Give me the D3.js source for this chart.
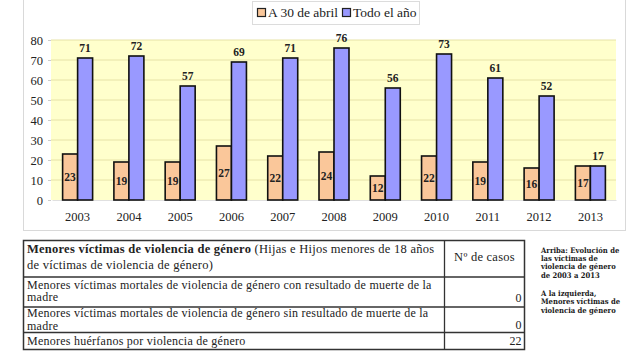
<!DOCTYPE html>
<html><head><meta charset="utf-8">
<script src="https://cdn.jsdelivr.net/npm/d3@7"></script>
<style>
html,body{margin:0;padding:0;background:#fff;}
svg{display:block;}
</style></head>
<body>
<svg id="c" width="644" height="362"></svg>
<script>
const years = ["2003","2004","2005","2006","2007","2008","2009","2010","2011","2012","2013"];
const abril = [23,19,19,27,22,24,12,22,19,16,17];
const todo  = [71,72,57,69,71,76,56,73,61,52,17];
const seriesNames = ["A 30 de abril","Todo el año"];
const yTicks = [0,10,20,30,40,50,60,70,80];

const tableHeaderBold = "Menores víctimas de violencia de género";
const tableHeaderRest = " (Hijas e Hijos menores de 18 años";
const tableHeaderLine2 = "de víctimas de violencia de género)";
const tableColHeader = "Nº de casos";
const tableRows = [
  ["Menores víctimas mortales de violencia de género con resultado de muerte de la","madre"],
  ["Menores víctimas mortales de violencia de género sin resultado de muerte de la","madre"],
  ["Menores huérfanos por violencia de género"]
];
const tableValues = ["0","0","22"];
const sideNote1 = ["Arriba: Evolución de","las víctimas de","violencia de género","de 2003 a 2013"];
const sideNote2 = ["A la izquierda,","Menores víctimas de","violencia de género"];

const svg = d3.select("#c");
const SERIF = "'Liberation Serif','DejaVu Serif',serif";
const colA = "#FAC79A", colT = "#9999FF";

// chart frame
svg.append("rect").attr("x",23.5).attr("y",-5).attr("width",602).attr("height",235.5)
  .attr("fill","#fff").attr("stroke","#d9d9d9").attr("stroke-width",1);

const plot = {l:51, r:616, t:40, b:200};
const x = d3.scaleBand().domain(years).range([plot.l+1, plot.r]).paddingInner(0.415).paddingOuter(0.207);
const y = d3.scaleLinear().domain([0,80]).range([plot.b, plot.t]);

svg.append("rect").attr("x",plot.l).attr("y",plot.t).attr("width",plot.r-plot.l).attr("height",plot.b-plot.t)
  .attr("fill","#FFFFCC");
svg.append("g").selectAll("line").data(yTicks.filter(d=>d>0)).join("line")
  .attr("x1",plot.l).attr("x2",plot.r).attr("y1",d=>y(d)).attr("y2",d=>y(d))
  .attr("stroke","#E6E2A6").attr("stroke-width",1);

// axes
const yAxis = svg.append("g").attr("transform",`translate(${plot.l},0)`)
  .call(d3.axisLeft(y).tickValues(yTicks).tickSize(3).tickPadding(5));
yAxis.select(".domain").remove();
yAxis.selectAll("line").attr("stroke","#ccc");
yAxis.selectAll("text").attr("font-family",SERIF).attr("font-size","12.5px").attr("fill","#222");

const xAxis = svg.append("g").attr("transform",`translate(0,${plot.b})`)
  .call(d3.axisBottom(x).tickSize(0).tickPadding(12));
xAxis.select(".domain").attr("stroke","#e0e0e0");
xAxis.selectAll("text").attr("font-family",SERIF).attr("font-size","12.5px").attr("fill","#222");

const bw = x.bandwidth()/2;
const gA = svg.append("g");
gA.selectAll("rect").data(years).join("rect")
  .attr("x",d=>x(d)).attr("width",bw)
  .attr("y",(d,i)=>y(abril[i])).attr("height",(d,i)=>y(0)-y(abril[i]))
  .attr("fill",colA).attr("stroke","#111").attr("stroke-width",1.6);
const gT = svg.append("g");
gT.selectAll("rect").data(years).join("rect")
  .attr("x",d=>x(d)+bw).attr("width",bw)
  .attr("y",(d,i)=>y(todo[i])).attr("height",(d,i)=>y(0)-y(todo[i]))
  .attr("fill",colT).attr("stroke","#111").attr("stroke-width",1.6);

// labels
svg.append("g").selectAll("text").data(years).join("text")
  .attr("x",d=>x(d)+bw/2).attr("y",(d,i)=>(y(abril[i])+y(0))/2+4)
  .attr("text-anchor","middle").attr("font-family",SERIF).attr("font-weight","bold")
  .attr("font-size","11.5px").attr("fill","#222").text((d,i)=>abril[i]);
svg.append("g").selectAll("text").data(years).join("text")
  .attr("x",d=>x(d)+bw*1.5).attr("y",(d,i)=>y(todo[i])-6)
  .attr("text-anchor","middle").attr("font-family",SERIF).attr("font-weight","bold")
  .attr("font-size","11.5px").attr("fill","#222").text((d,i)=>todo[i]);

// legend
const lg = svg.append("g");
lg.append("rect").attr("x",252.5).attr("y",1.5).attr("width",167).attr("height",23)
  .attr("fill","#fff").attr("stroke","#dcdcdc");
const legItems = [{n:seriesNames[0],c:colA,x:257},{n:seriesNames[1],c:colT,x:342}];
legItems.forEach(it=>{
  lg.append("rect").attr("x",it.x+0.5).attr("y",8.5).attr("width",8).attr("height",8)
    .attr("fill",it.c).attr("stroke","#222").attr("stroke-width",1.2);
  lg.append("text").attr("x",it.x+11).attr("y",17).attr("font-family",SERIF)
    .attr("font-size","13.5px").attr("fill","#222").text(it.n);
});

// table
const T = {l:23.5, r:524.5, c:444.5};
const rowY = [240.5, 277, 307, 332.5, 349.5];
const tg = svg.append("g");
tg.append("rect").attr("x",T.l).attr("y",rowY[0]).attr("width",T.r-T.l).attr("height",rowY[4]-rowY[0])
  .attr("fill","#fff").attr("stroke","#333").attr("stroke-width",1.5);
rowY.slice(1,4).forEach(yy=>tg.append("line").attr("x1",T.l).attr("x2",T.r).attr("y1",yy).attr("y2",yy)
  .attr("stroke","#333").attr("stroke-width",1.3));
tg.append("line").attr("x1",T.c).attr("x2",T.c).attr("y1",rowY[0]).attr("y2",rowY[4])
  .attr("stroke","#333").attr("stroke-width",1.3);
const TFS = "12px", LS = "0.25px";
const h1 = tg.append("text").attr("x",27).attr("y",253).attr("font-family",SERIF).attr("font-size","12.5px").attr("letter-spacing",LS).attr("fill","#222");
h1.append("tspan").attr("font-weight","bold").text(tableHeaderBold);
h1.append("tspan").text(tableHeaderRest);
tg.append("text").attr("x",27).attr("y",269).attr("font-family",SERIF).attr("font-size","12.5px").attr("letter-spacing",LS).attr("fill","#222").text(tableHeaderLine2);
tg.append("text").attr("x",(T.c+T.r)/2).attr("y",261).attr("text-anchor","middle").attr("font-family",SERIF).attr("font-size","12.5px").attr("letter-spacing",LS).attr("fill","#222").text(tableColHeader);
const lineY = [[288.5,301],[317,329.5],[345]];
tableRows.forEach((r,i)=>{
  r.forEach((ln,j)=>tg.append("text").attr("x",27).attr("y",lineY[i][j]).attr("font-family",SERIF).attr("font-size",TFS).attr("letter-spacing",LS).attr("fill","#222").text(ln));
  tg.append("text").attr("x",T.r-3).attr("y",[302,328.5,345][i]).attr("text-anchor","end").attr("font-family",SERIF).attr("font-size","12px").attr("fill","#222").text(tableValues[i]);
});

// side note
const sg = svg.append("g").attr("font-family","'DejaVu Serif Condensed','DejaVu Serif',serif")
  .attr("font-size","7.6px").attr("font-weight","bold").attr("fill","#1a1a1a");
sideNote1.forEach((t,i)=>sg.append("text").attr("x",541).attr("y",252.5+i*8.4).text(t));
sideNote2.forEach((t,i)=>sg.append("text").attr("x",541).attr("y",296+i*8.4).text(t));
</script>
</body></html>
